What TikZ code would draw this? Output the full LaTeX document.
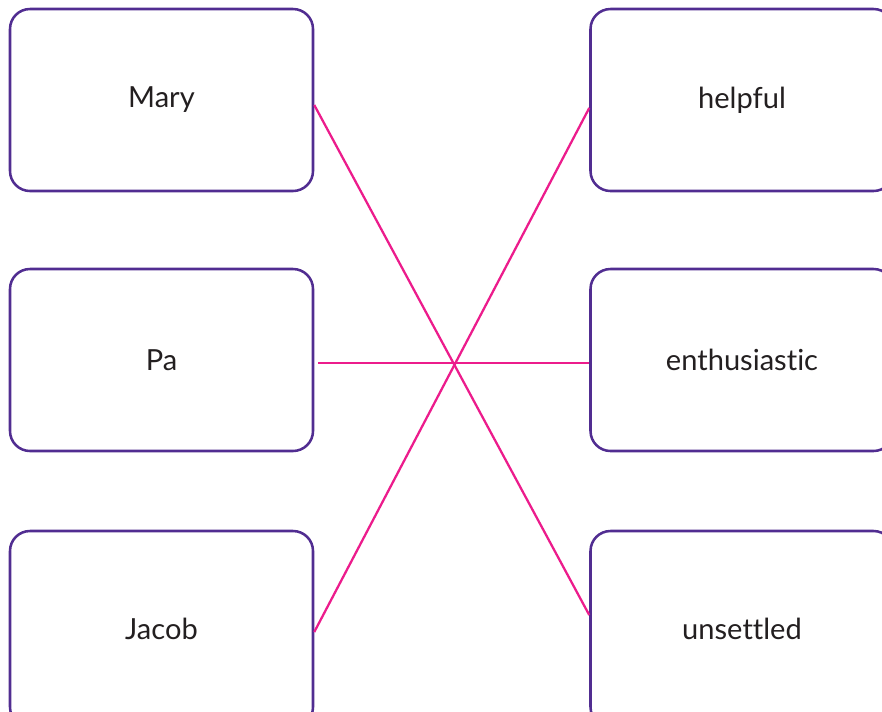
\documentclass[tikz,border=0pt]{standalone}
\usepackage{fontspec}
\setmainfont{Lato}[Ligatures={NoCommon,NoRare,NoContextual}]
\definecolor{boxpurple}{HTML}{512D91}
\definecolor{linkpink}{HTML}{EC1C8C}
\definecolor{txtgray}{HTML}{231F20}

\begin{document}
\begin{tikzpicture}[x=0.75pt,y=-0.75pt]
  \tikzstyle{box}=[draw=boxpurple,line width=1.9pt,rounded corners=15pt,minimum width=227.25pt,minimum height=136.5pt,inner sep=0pt,text=txtgray,font=\fontsize{21.8}{26}\selectfont]
  \tikzstyle{link}=[draw=linkpink,line width=1.7pt]
  \useasboundingbox (0,0) rectangle (882,711);
  \begin{scope}
  \clip (0,0) rectangle (882,711);
  \node[box] (L_1) at (161.5,100) {Mary};
  \node[box] (L_2) at (161.5,360) {Pa};
  \node[box,minimum height=147pt] (L_3) at (161.5,629) {Jacob};
  \node[box] (R_1) at (742,100) {helpful};
  \node[box] (R_2) at (742,360) {enthusiastic};
  \node[box,minimum height=147pt] (R_3) at (742,629) {unsettled};

  \draw[link] ([yshift=-3.75pt]L_1.east) -- ([yshift=10.5pt]R_3.west);
  \draw[link] ([xshift=3pt,yshift=-2.25pt]L_2.east) -- ([yshift=-2.25pt]R_2.west);
  \draw[link] ([yshift=-2.25pt]L_3.east) -- ([yshift=-6pt]R_1.west);
  \end{scope}
\end{tikzpicture}
\end{document}
